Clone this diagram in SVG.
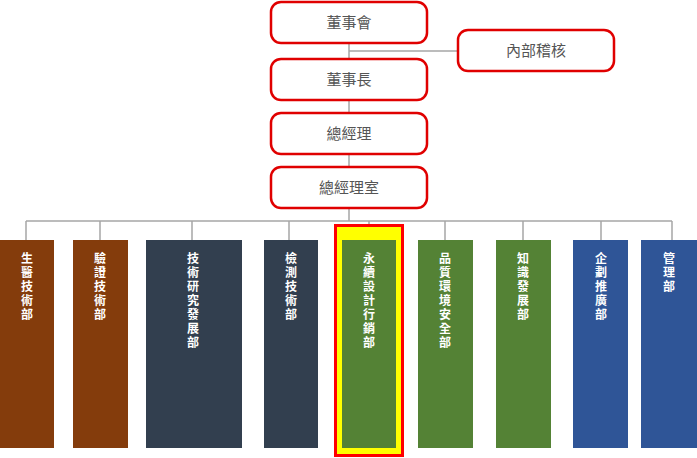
<svg xmlns="http://www.w3.org/2000/svg" width="697" height="458" viewBox="0 0 697 458">
<style>
.top{fill:#fff;stroke:#e00000;stroke-width:2.5}
.tt{font-family:"Noto Sans CJK TC",sans-serif;font-size:15px;fill:#555;text-anchor:middle}
.vt{font-family:"Noto Sans CJK TC",sans-serif;font-size:12px;font-weight:bold;fill:#fff;text-anchor:middle}
.ln{stroke:#a6a6a6;stroke-width:1.5;fill:none}
.br{fill:#843c0c}.dk{fill:#323f4f}.gr{fill:#548235}.bl{fill:#2f5597}
</style>
<g id="connectors">
<path class="ln" d="M349 43V59M349 51H458M349 100V113M349 154V167M349 208V221M26 221H672M26 221V240M100 221V240M192 221V240M289 221V240M369 221V240M445 221V240M523 221V240M601 221V240M672 221V240"/>
</g>
<g id="n1"><rect class="top" x="271" y="2" width="156" height="41" rx="10"/><text class="tt" x="349" y="28">董事會</text></g>
<g id="n2"><rect class="top" x="458" y="30" width="156" height="41" rx="10"/><text class="tt" x="536" y="56">內部稽核</text></g>
<g id="n3"><rect class="top" x="271" y="59" width="156" height="41" rx="10"/><text class="tt" x="349" y="85">董事長</text></g>
<g id="n4"><rect class="top" x="271" y="113" width="156" height="41" rx="10"/><text class="tt" x="349" y="139">總經理</text></g>
<g id="n5"><rect class="top" x="271" y="167" width="156" height="41" rx="10"/><text class="tt" x="349" y="193">總經理室</text></g>
<g id="d1"><rect class="br" x="0" y="240" width="54" height="208"/><text class="vt" x="27" y="263"><tspan x="27">生</tspan><tspan x="27" dy="14">醫</tspan><tspan x="27" dy="14">技</tspan><tspan x="27" dy="14">術</tspan><tspan x="27" dy="14">部</tspan></text></g>
<g id="d2"><rect class="br" x="73" y="240" width="55" height="208"/><text class="vt" x="100" y="263"><tspan x="100">驗</tspan><tspan x="100" dy="14">證</tspan><tspan x="100" dy="14">技</tspan><tspan x="100" dy="14">術</tspan><tspan x="100" dy="14">部</tspan></text></g>
<g id="d3"><rect class="dk" x="146" y="240" width="96" height="208"/><text class="vt" x="193" y="263"><tspan x="193">技</tspan><tspan x="193" dy="14">術</tspan><tspan x="193" dy="14">研</tspan><tspan x="193" dy="14">究</tspan><tspan x="193" dy="14">發</tspan><tspan x="193" dy="14">展</tspan><tspan x="193" dy="14">部</tspan></text></g>
<g id="d4"><rect class="dk" x="264" y="240" width="54" height="208"/><text class="vt" x="291" y="263"><tspan x="291">檢</tspan><tspan x="291" dy="14">測</tspan><tspan x="291" dy="14">技</tspan><tspan x="291" dy="14">術</tspan><tspan x="291" dy="14">部</tspan></text></g>
<g id="d5"><rect x="335.5" y="225.5" width="67" height="230" fill="#ffff00" stroke="#ff0000" stroke-width="3"/><rect class="gr" x="342" y="240" width="54" height="208"/><text class="vt" x="369" y="263"><tspan x="369">永</tspan><tspan x="369" dy="14">續</tspan><tspan x="369" dy="14">設</tspan><tspan x="369" dy="14">計</tspan><tspan x="369" dy="14">行</tspan><tspan x="369" dy="14">銷</tspan><tspan x="369" dy="14">部</tspan></text></g>
<g id="d6"><rect class="gr" x="418" y="240" width="55" height="208"/><text class="vt" x="445" y="263"><tspan x="445">品</tspan><tspan x="445" dy="14">質</tspan><tspan x="445" dy="14">環</tspan><tspan x="445" dy="14">境</tspan><tspan x="445" dy="14">安</tspan><tspan x="445" dy="14">全</tspan><tspan x="445" dy="14">部</tspan></text></g>
<g id="d7"><rect class="gr" x="496" y="240" width="55" height="208"/><text class="vt" x="523" y="263"><tspan x="523">知</tspan><tspan x="523" dy="14">識</tspan><tspan x="523" dy="14">發</tspan><tspan x="523" dy="14">展</tspan><tspan x="523" dy="14">部</tspan></text></g>
<g id="d8"><rect class="bl" x="573" y="240" width="55" height="208"/><text class="vt" x="601" y="263"><tspan x="601">企</tspan><tspan x="601" dy="14">劃</tspan><tspan x="601" dy="14">推</tspan><tspan x="601" dy="14">廣</tspan><tspan x="601" dy="14">部</tspan></text></g>
<g id="d9"><rect class="bl" x="641" y="240" width="56" height="208"/><text class="vt" x="669" y="263"><tspan x="669">管</tspan><tspan x="669" dy="14">理</tspan><tspan x="669" dy="14">部</tspan></text></g>
</svg>
